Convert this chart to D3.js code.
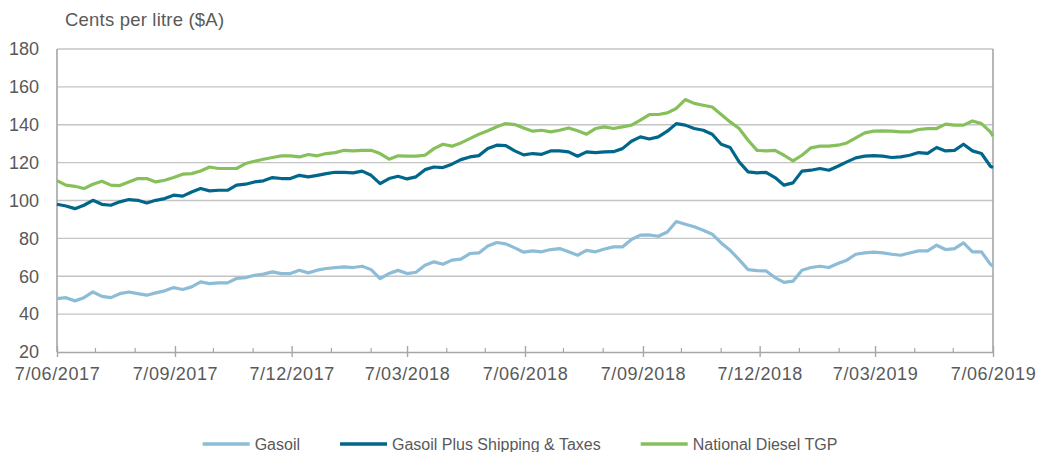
<!DOCTYPE html>
<html>
<head>
<meta charset="utf-8">
<script src="https://cdn.jsdelivr.net/npm/d3@7"></script>
<style>
  body { margin: 0; background: #fff; }
  text { font-family: "Liberation Sans", Arial, sans-serif; fill: #595959; }
</style>
</head>
<body>
<script>
const d3 = window.d3;
const W = 1038, H = 452;
const margin = {top: 49, right: 45, bottom: 100, left: 57};
const width = W - margin.left - margin.right;
const height = 352 - margin.top;

// weekly readings, 7/06/2017 .. 7/06/2019
const startDate = new Date(2017, 5, 7);
const endDate = new Date(2019, 5, 7);
const dates = d3.range(105).map(i => d3.timeDay.offset(startDate, 7 * i));
dates.push(endDate);

const gasoil = [
  48.2, 48.7, 47.0, 48.7, 51.7, 49.4, 48.7, 50.8, 51.7, 50.8,
  50.0, 51.2, 52.3, 54.0, 53.0, 54.4, 57.0, 56.1, 56.5, 56.5,
  58.8, 59.3, 60.5, 61.1, 62.3, 61.4, 61.4, 63.2, 61.8, 63.2,
  64.1, 64.6, 64.9, 64.6, 65.3, 63.5, 58.8, 61.4, 63.1, 61.4,
  62.1, 65.8, 67.6, 66.3, 68.5, 69.0, 72.0, 72.3, 76.0, 77.8,
  77.1, 75.0, 72.7, 73.4, 72.9, 74.1, 74.6, 72.9, 71.1, 73.7,
  72.9, 74.4, 75.5, 75.5, 79.4, 81.7, 81.8, 81.1, 83.4, 88.9,
  87.5, 86.1, 84.3, 82.2, 77.6, 73.7, 68.8, 63.5, 63.0, 62.8,
  59.3, 56.8, 57.4, 63.2, 64.6, 65.3, 64.6, 66.7, 68.5, 71.6,
  72.3, 72.7, 72.3, 71.6, 71.1, 72.3, 73.4, 73.4, 76.4, 74.1,
  74.6, 77.6, 72.9, 72.9, 66.3, 65.3
];
const gasoilPlus = [
  98.0, 97.1, 95.7, 97.5, 100.1, 98.0, 97.5, 99.3, 100.5, 100.1,
  98.7, 100.1, 101.0, 102.8, 102.3, 104.5, 106.3, 105.1, 105.4, 105.4,
  108.1, 108.6, 109.8, 110.4, 112.1, 111.6, 111.6, 113.3, 112.5, 113.3,
  114.2, 114.9, 114.8, 114.6, 115.5, 113.3, 108.9, 111.6, 112.8, 111.4,
  112.5, 116.3, 117.7, 117.4, 119.2, 121.6, 123.0, 123.7, 127.4, 129.2,
  129.0, 126.2, 124.1, 124.8, 124.4, 126.2, 126.2, 125.7, 123.4, 125.7,
  125.3, 125.7, 125.8, 127.4, 131.3, 133.6, 132.5, 133.6, 136.6, 140.6,
  139.8, 138.0, 137.1, 135.0, 129.7, 128.0, 120.4, 115.1, 114.6, 114.9,
  112.1, 108.1, 109.3, 115.5, 116.0, 116.9, 116.0, 118.1, 120.4, 122.5,
  123.4, 123.7, 123.4, 122.7, 123.0, 123.9, 125.3, 124.9, 128.0, 126.2,
  126.5, 129.7, 126.2, 124.8, 118.1, 117.4
];
const dieselTgp = [
  110.5, 108.1, 107.5, 106.3, 108.6, 110.2, 108.1, 107.9, 109.8, 111.6,
  111.6, 109.8, 110.7, 112.1, 113.9, 114.2, 115.6, 117.7, 116.9, 116.9,
  116.9, 119.5, 120.7, 121.8, 122.7, 123.6, 123.6, 123.0, 124.3, 123.6,
  124.8, 125.3, 126.5, 126.2, 126.5, 126.5, 124.8, 121.8, 123.6, 123.4,
  123.4, 123.9, 127.4, 129.7, 128.7, 130.4, 132.7, 135.0, 136.8, 138.9,
  140.6, 140.1, 138.3, 136.6, 137.1, 136.2, 137.1, 138.3, 136.8, 135.0,
  138.0, 138.9, 138.0, 138.9, 139.8, 142.4, 145.4, 145.4, 146.3, 148.6,
  153.3, 151.3, 150.3, 149.4, 145.4, 141.5, 138.0, 131.8, 126.5, 126.2,
  126.5, 123.9, 120.9, 123.9, 127.8, 128.7, 128.7, 129.2, 130.4, 133.1,
  135.7, 136.6, 136.8, 136.6, 136.2, 136.2, 137.5, 138.0, 138.0, 140.3,
  139.8, 139.8, 142.0, 140.6, 136.2, 133.9
];

const seriesNames = ["Gasoil", "Gasoil Plus Shipping & Taxes", "National Diesel TGP"];
const seriesColors = ["#8dbdd6", "#00678b", "#86c05a"];
const seriesValues = [gasoil, gasoilPlus, dieselTgp];
const yTicks = [20, 40, 60, 80, 100, 120, 140, 160, 180];
const yTitle = "Cents per litre ($A)";

const svg = d3.select("body").append("svg")
    .attr("width", W)
    .attr("height", H);
const g = svg.append("g")
    .attr("transform", `translate(${margin.left},${margin.top})`);

const x = d3.scaleTime()
    .domain([startDate, endDate])
    .range([0, width]);
const y = d3.scaleLinear()
    .domain([20, 180])
    .range([height, 0]);

// gridlines
g.append("g")
    .selectAll("line")
    .data(yTicks.filter(v => v > 20))
    .enter()
    .append("line")
        .attr("x1", 0)
        .attr("x2", width)
        .attr("y1", v => y(v))
        .attr("y2", v => y(v))
        .attr("stroke", "#c4c4c4")
        .attr("stroke-width", 1.3);

// y axis labels + left/right axis lines
const yAxis = g.append("g")
    .call(d3.axisLeft(y).tickValues(yTicks).tickSize(0).tickPadding(18));
yAxis.select(".domain").remove();
yAxis.selectAll("text")
    .style("font-family", "'Liberation Sans', Arial, sans-serif")
    .style("font-size", "18px")
    .attr("fill", "#595959");

[0, width].forEach(px => {
    g.append("line")
        .attr("x1", px).attr("x2", px)
        .attr("y1", 0).attr("y2", height)
        .attr("stroke", "#a6a6a6")
        .attr("stroke-width", 1.6);
});

// x axis: quarterly labelled ticks, monthly minor ticks
const months = d3.range(25).map(k => new Date(2017, 5 + k, 7));
const majors = months.filter((d, k) => k % 3 === 0);
const minors = months.filter((d, k) => k % 3 !== 0);

const xAxis = g.append("g")
    .attr("transform", `translate(0,${height})`)
    .call(d3.axisBottom(x)
        .tickValues(majors)
        .tickFormat(d3.timeFormat("%-d/%m/%Y"))
        .tickSizeInner(5)
        .tickSizeOuter(0)
        .tickPadding(10));
xAxis.select(".domain")
    .attr("stroke", "#a6a6a6")
    .attr("stroke-width", 1.6);
xAxis.selectAll(".tick line")
    .attr("y1", -6)
    .attr("stroke", "#a6a6a6")
    .attr("stroke-width", 1.4);
xAxis.selectAll("text")
    .style("font-family", "'Liberation Sans', Arial, sans-serif")
    .style("font-size", "18px")
    .style("letter-spacing", "0.6px")
    .attr("fill", "#595959");

g.append("g")
    .selectAll("line")
    .data(minors)
    .enter()
    .append("line")
        .attr("x1", d => x(d))
        .attr("x2", d => x(d))
        .attr("y1", height - 4)
        .attr("y2", height)
        .attr("stroke", "#a6a6a6")
        .attr("stroke-width", 1.2);

// title
svg.append("text")
    .attr("x", 65)
    .attr("y", 26)
    .style("font-size", "18.5px")
    .style("letter-spacing", "0.2px")
    .text(yTitle);

// lines
const line = d3.line()
    .x((v, i) => x(dates[i]))
    .y(v => y(v));

seriesValues.forEach((vals, s) => {
    g.append("path")
        .datum(vals)
        .attr("fill", "none")
        .attr("stroke", seriesColors[s])
        .attr("stroke-width", 3.2)
        .attr("stroke-linejoin", "round")
        .attr("d", line);
});

// legend
const legend = svg.append("g");
const lineLen = 47, gap = 5, itemGap = 40, legendY = 444;
let cursor = 0;
seriesNames.forEach((name, s) => {
    const item = legend.append("g").attr("transform", `translate(${cursor},0)`);
    item.append("line")
        .attr("x1", 0).attr("x2", lineLen)
        .attr("y1", legendY).attr("y2", legendY)
        .attr("stroke", seriesColors[s])
        .attr("stroke-width", 3.5);
    const t = item.append("text")
        .attr("x", lineLen + gap)
        .attr("y", legendY + 5.5)
        .style("font-size", "16px")
        .text(name);
    cursor += lineLen + gap + t.node().getComputedTextLength() + itemGap;
});
const legendWidth = cursor - itemGap;
legend.attr("transform", `translate(${520 - legendWidth / 2},0)`);
</script>
</body>
</html>
